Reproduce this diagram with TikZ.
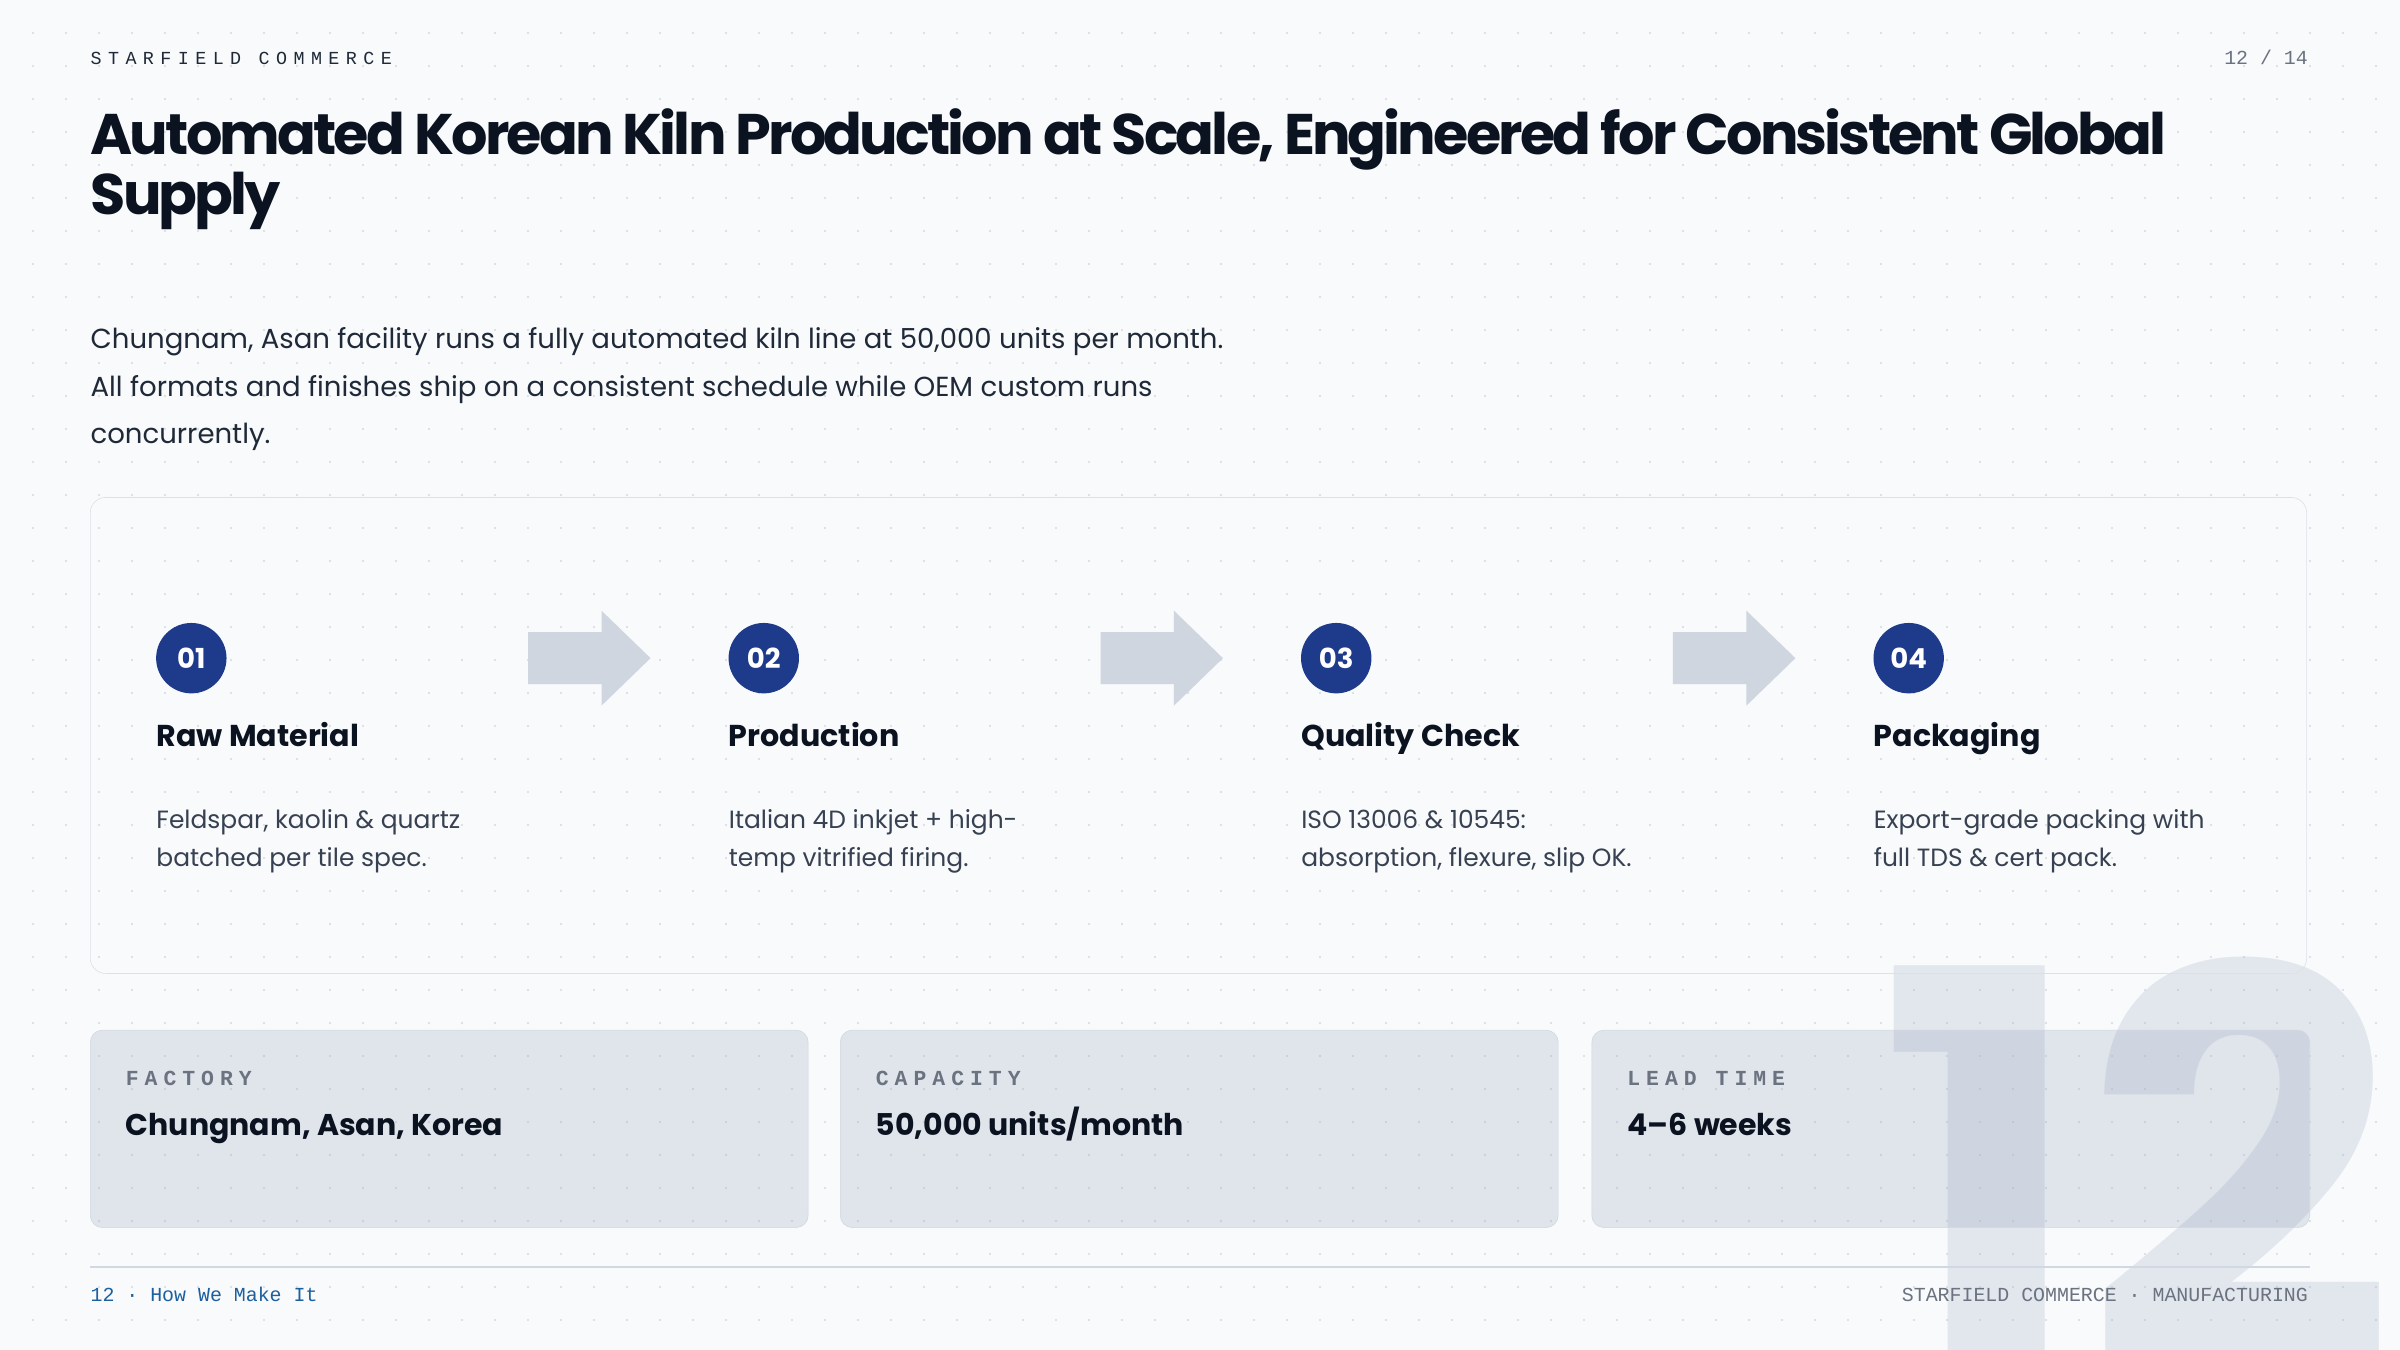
\documentclass[tikz,border=0pt]{standalone}
\usepackage{fontspec}
\setmainfont{Poppins}
\setmonofont{Liberation Mono}
\newfontfamily\trackmono[LetterSpace=35]{Liberation Mono}
\newfontfamily\labelmono[LetterSpace=28]{Liberation Mono}
\newfontfamily\titlefont[LetterSpace=-5]{Poppins}
\usetikzlibrary{positioning, calc}

\definecolor{pagebg}{HTML}{F8FAFC}
\definecolor{dotgray}{HTML}{D5DAE0}
\definecolor{ink}{HTML}{0B1220}
\definecolor{bodyink}{HTML}{1F2937}
\definecolor{descink}{HTML}{374151}
\definecolor{mutedink}{HTML}{6B7280}
\definecolor{navy}{HTML}{1E3A8A}
\definecolor{arrowgray}{HTML}{CFD6DF}
\definecolor{panelline}{HTML}{DDE1E7}
\definecolor{cardtint}{HTML}{94A3B8}
\definecolor{cardline}{HTML}{D2D8E1}
\definecolor{footblue}{HTML}{1E5F9E}

\tikzset{
  x=1pt, y=-1pt,
  txt/.style={inner sep=0pt, anchor=base west},
  stepnum/.style={circle, fill=navy, text=white, minimum size=46pt, inner sep=0pt,
    font=\bfseries\fontsize{18}{18}\selectfont},
  steptitle/.style={txt, text=ink, font=\bfseries\fontsize{19.7}{24}\selectfont},
  stepdesc/.style={txt, align=left, text=descink, font=\fontsize{16.3}{25}\selectfont},
  flowarrow/.style={fill=arrowgray},
  factcard/.style={rounded corners=8pt, fill=cardtint, fill opacity=0.24, draw=cardline},
  factlabel/.style={txt, text=mutedink, font=\labelmono\bfseries\fontsize{14}{14}\selectfont},
  factvalue/.style={txt, text=ink, font=\bfseries\fontsize{19.6}{24}\selectfont},
  footnote/.style={txt, font=\ttfamily\fontsize{13}{13}\selectfont},
  watermark/.style={txt, text=cardtint, text opacity=0.22, font=\bfseries\fontsize{356}{356}\selectfont}
}

\begin{document}
\begin{tikzpicture}
  \useasboundingbox (0,0) rectangle (1568,882);
  \fill[pagebg] (0,0) rectangle (1568,882);
  % dot grid
  \foreach \i in {1,...,72}
    \foreach \j in {1,...,40}
      \fill[dotgray] (\i*21.56, \j*21.56) circle (0.7pt);
  % big page number
  \node[watermark] (bignum) at (1228,891) {12};

  % header
  \node[txt, text=bodyink, font=\trackmono\fontsize{12}{12}\selectfont] (brand) at (59,42) {STARFIELD COMMERCE};
  \node[txt, anchor=base east, text=mutedink, font=\ttfamily\fontsize{13}{13}\selectfont] (pageno) at (1508,42) {12 / 14};
  \node[txt, align=left, text=ink, font=\titlefont\bfseries\fontsize{37.4}{37}\selectfont] (title) at (59,140)
    {Automated Korean Kiln Production at Scale, Engineered for Consistent Global\\Supply};
  \node[txt, align=left, text=bodyink, font=\fontsize{18}{31}\selectfont] (intro) at (59,290)
    {Chungnam, Asan facility runs a fully automated kiln line at 50,000 units per month.\\
     All formats and finishes ship on a consistent schedule while OEM custom runs\\
     concurrently.};

  % process panel
  \draw[panelline, rounded corners=10pt] (59,325) rectangle (1507,636);
  \foreach \i/\num/\ttl/\desc in {
      0/01/Raw Material/{Feldspar, kaolin \& quartz\\batched per tile spec.},
      1/02/Production/{Italian 4D inkjet + high-\\temp vitrified firing.},
      2/03/Quality Check/{ISO 13006 \& 10545:\\absorption, flexure, slip OK.},
      3/04/Packaging/{Export-grade packing with\\full TDS \& cert pack.}} {
    \node[stepnum] (num\i) at (125+374*\i,430) {\num};
    \node[steptitle] (ttl\i) at (102+374*\i,488) {\ttl};
    \node[stepdesc] (desc\i) at (102+374*\i,566) {\desc};
  }
  \foreach \i in {0,1,2}
    \fill[flowarrow, shift={(num\i.center)}] (220,-17) -- (268,-17) -- (268,-31) -- (300,0)
      -- (268,31) -- (268,17) -- (220,17) -- cycle;

  % fact cards
  \foreach \x/\lab/\val in {59/FACTORY/{Chungnam, Asan, Korea},
      549/CAPACITY/{50,000 units/month}, 1040/LEAD TIME/{4–6 weeks}} {
    \draw[factcard] (\x,673) rectangle (\x+469,802);
    \node[factlabel] (lab\x) at (\x+23,709) {\lab};
    \node[factvalue] (val\x) at (\x+23,742) {\val};
  }

  % footer
  \draw[cardline, line width=1.2pt] (59,828) -- (1509,828);
  \node[footnote, text=footblue] (section) at (59,850) {12 · How We Make It};
  \node[footnote, anchor=base east, text=mutedink] (footbrand) at (1508,850) {STARFIELD COMMERCE · MANUFACTURING};
\end{tikzpicture}
\end{document}
